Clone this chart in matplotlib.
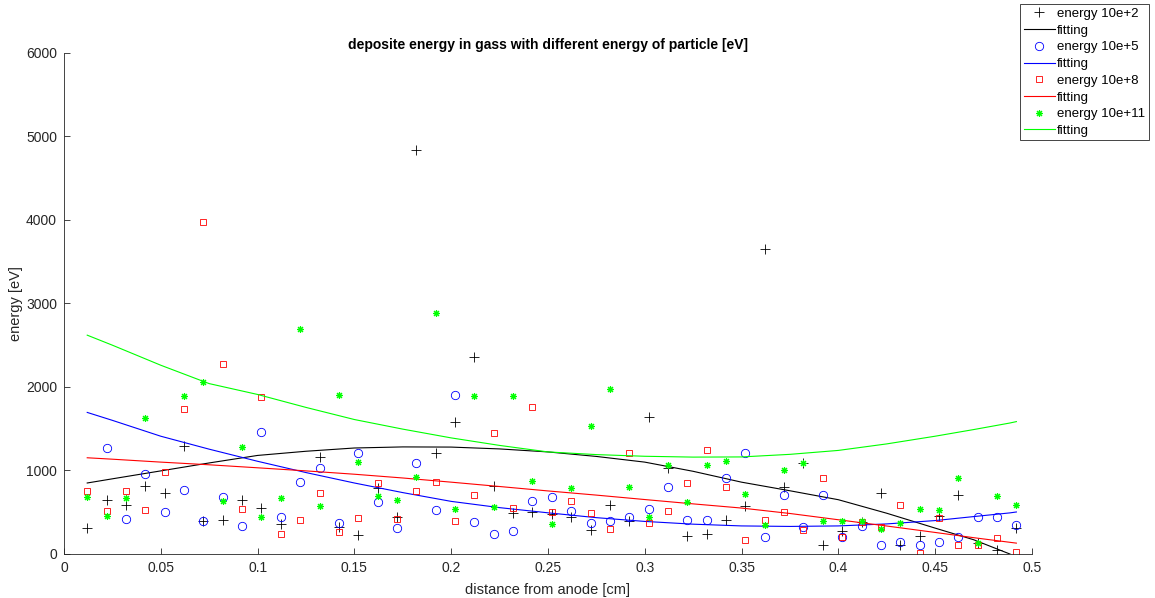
import numpy as np
import matplotlib
matplotlib.use("Agg")
import matplotlib.pyplot as plt

plt.rcParams["font.family"] = ["Liberation Sans", "DejaVu Sans"]
plt.rcParams["font.size"] = 10

# distance from anode [cm], one sample every 0.01 cm
distance = np.round(np.arange(49) * 0.01 + 0.012, 3)

nan = np.nan

# deposited energy [eV] for each particle energy
dep_1e2 = [315, 647, 587, 814, 731, 1293, 395, 407, 647, 551,
           359, nan, 1162, 323, 228, 790, 443, 4840, 1210, 1581,
           2360, 814, 491, 503, 479, 443, 287, 587, 395, 1641,
           1025, 210, 240, 407, 575, 3650, 802, 1090, 108, 275,
           383, 731, 108, 216, 455, 707, 130, 48, 311]

dep_1e5 = [nan, 1269, 419, 958, 503, 766, 395, 683, 335, 1461,
           443, 862, 1030, 371, 1210, 623, 311, 1090, 527, 1904,
           383, 240, 275, 635, 683, 515, 371, 395, 443, 539,
           802, 407, 407, 910, 1210, 204, 707, 323, 707, 204,
           335, 108, 144, 108, 144, 204, 443, 443, 347]

dep_1e8 = [755, 515, 755, 527, 982, 1737, 3980, 2275, 539, 1880,
           240, 407, 731, 263, 431, 850, 419, 755, 862, 395,
           707, 1449, 551, 1760, 503, 635, 491, 299, 1210, 371,
           515, 850, 1245, 802, 168, 407, 503, 287, 910, 204,
           383, 323, 587, 12, 431, 108, 108, 192, 24]

dep_1e11 = [683, 455, 671, 1629, nan, 1892, 2060, 635, 1281, 443,
            671, 2695, 575, 1904, 1102, 695, 647, 922, 2886, 539,
            1892, 563, 1892, 874, 359, 790, 1533, 1976, 802, 443,
            1066, 623, 1066, 1114, 719, 347, 1006, 1090, 395, 395,
            400, 299, 371, 539, 527, 910, 132, 695, 587]

# fitted curves, sampled along the distance axis
fit_x = [0.012, 0.025, 0.05, 0.075, 0.1, 0.125, 0.15, 0.175, 0.2, 0.225,
         0.25, 0.275, 0.3, 0.325, 0.35, 0.375, 0.4, 0.425, 0.45, 0.47, 0.4886, 0.492]
fit_1e2 = [850, 900, 995, 1090, 1180, 1230, 1269, 1282, 1280, 1258,
           1222, 1168, 1100, 990, 860, 757, 650, 488, 310, 170, 0, -40]
fit_1e5 = [1695, 1600, 1410, 1255, 1110, 975, 850, 735, 630, 555,
           493, 435, 390, 357, 336, 330, 336, 360, 400, 448, 492, 503]
fit_1e8 = [1152, 1135, 1100, 1068, 1032, 995, 955, 910, 860, 808,
           755, 705, 652, 600, 550, 485, 410, 335, 258, 195, 140, 130]
fit_1e11 = [2620, 2500, 2260, 2040, 1910, 1755, 1610, 1495, 1390, 1300,
            1222, 1190, 1170, 1160, 1162, 1193, 1240, 1318, 1410, 1490, 1568, 1585]

labels = ["energy 10e+2", "energy 10e+5", "energy 10e+8", "energy 10e+11"]

fig = plt.figure(figsize=(11.55, 5.98), dpi=100)
ax = fig.add_axes([0.0554, 0.0736, 0.838, 0.838])

axis_gray = (0.15, 0.15, 0.15)
ms = 6
mew = 0.6
lw = 0.8

ax.plot(distance, dep_1e2, linestyle="none", marker="+", color="black",
        markersize=ms + 1, markeredgewidth=mew, label=labels[0])
ax.plot(fit_x, fit_1e2, color="black", linewidth=lw, label="fitting")
ax.plot(distance, dep_1e5, linestyle="none", marker="o", color="blue",
        markerfacecolor="none", markersize=ms, markeredgewidth=mew, label=labels[1])
ax.plot(fit_x, fit_1e5, color="blue", linewidth=lw, label="fitting")
ax.plot(distance, dep_1e8, linestyle="none", marker="s", color="red",
        markerfacecolor="none", markersize=ms - 1, markeredgewidth=mew, label=labels[2])
ax.plot(fit_x, fit_1e8, color="red", linewidth=lw, label="fitting")
ax.plot(distance, dep_1e11, linestyle="none", marker=(8, 2, 0), color=(0, 1, 0),
        markersize=ms - 1, markeredgewidth=mew + 0.2, label=labels[3])
ax.plot(fit_x, fit_1e11, color=(0, 1, 0), linewidth=lw, label="fitting")

ax.set_xlim(0, 0.5)
ax.set_ylim(0, 6000)
ax.set_xticks(np.arange(0, 0.501, 0.05))
ax.set_xticklabels(["0", "0.05", "0.1", "0.15", "0.2", "0.25",
                    "0.3", "0.35", "0.4", "0.45", "0.5"])
ax.set_yticks(np.arange(0, 6001, 1000))

for side in ("top", "right"):
    ax.spines[side].set_visible(False)
for side in ("left", "bottom"):
    ax.spines[side].set_color(axis_gray)
    ax.spines[side].set_linewidth(0.6)
ax.tick_params(direction="in", length=4, width=0.6, color=axis_gray,
               labelcolor=axis_gray, labelsize=10, pad=5)

ax.set_title("deposite energy in gass with different energy of particle [eV]",
             fontsize=10, fontweight="bold", pad=3)
ax.set_xlabel("distance from anode [cm]", fontsize=10.5, color=axis_gray, labelpad=6)
ax.set_ylabel("energy [eV]", fontsize=10.5, color=axis_gray, labelpad=2)

leg = fig.legend(loc="upper right", bbox_to_anchor=(0.9945, 0.9925),
                 frameon=True, fancybox=False, framealpha=1,
                 handlelength=2.4, handletextpad=0.15, labelspacing=0.34,
                 borderpad=0.25, borderaxespad=0, fontsize=9.5)
leg.get_frame().set_edgecolor(axis_gray)
leg.get_frame().set_linewidth(0.6)

fig.savefig("out.png", dpi=100)
